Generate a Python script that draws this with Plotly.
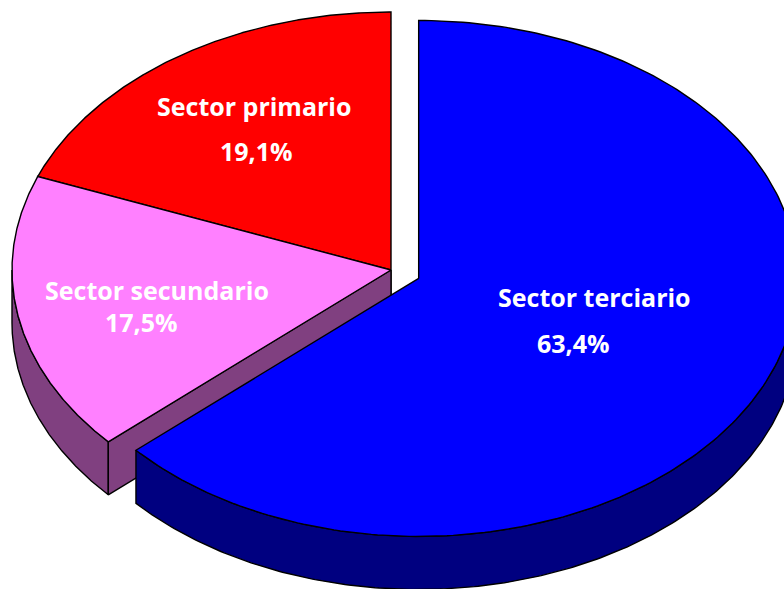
import numpy as np
import plotly.graph_objects as go

# ---- data (clockwise from 12 o'clock) ----
categories = ["Sector terciario", "Sector secundario", "Sector primario"]
values = [63.4, 17.5, 19.1]

# ---- styles / layout constants ----
top_colors = ["#0000FF", "#FF80FF", "#FF0000"]
side_colors = ["#000080", "#804080", "#800000"]
explode = [0.08, 0.0, 0.0]
label_pos = [((594, 297), (573, 343)), ((157, 290), (141, 322)), ((254, 106), (256, 151))]
CX, CY = 391.0, 270.0
RX, RY = 379.0, 258.0
DEPTH = 53.0
W, H = 784, 589


def pt(cx, cy, a):
    r = np.radians(a)
    return cx + RX * np.cos(r), cy - RY * np.sin(r)


def arc(cx, cy, a0, a1, n=240):
    a = np.linspace(a0, a1, n)
    r = np.radians(a)
    return list(cx + RX * np.cos(r)), list(cy - RY * np.sin(r))


def poly(xs, ys, fill):
    return go.Scatter(x=xs + [xs[0]], y=ys + [ys[0]], mode="lines", fill="toself",
                      fillcolor=fill, line=dict(color="black", width=1.4),
                      hoverinfo="skip", showlegend=False)


total = sum(values)
slices = []
start = 90.0
for i, v in enumerate(values):
    sweep = 360.0 * v / total
    a0, a1 = start - sweep, start
    mid = (a0 + a1) / 2
    mr = np.radians(mid)
    cx = CX + explode[i] * RX * np.cos(mr)
    cy = CY - explode[i] * RY * np.sin(mr)
    slices.append(dict(a0=a0, a1=a1, cx=cx, cy=cy, i=i))
    start = a0


def visible_side(s):
    out = []
    for k in range(-2, 2):
        lo, hi = 180 + 360 * k, 360 + 360 * k
        a = max(s["a0"], lo)
        b = min(s["a1"], hi)
        if b > a:
            out.append((a, b))
    return out


traces_by_slice = {}
for s in slices:
    i = s["i"]
    tr = []
    for a, b in visible_side(s):
        xs, ys = arc(s["cx"], s["cy"], a, b)
        xb = xs[::-1]
        yb = [y + DEPTH for y in ys[::-1]]
        tr.append(poly(xs + xb, ys + yb, side_colors[i]))
    for ang, sign in ((s["a0"], -1), (s["a1"], 1)):
        na = np.radians(ang + sign * 90)
        if np.sin(na) < -1e-6:
            px, py = pt(s["cx"], s["cy"], ang)
            xs = [s["cx"], px, px, s["cx"]]
            ys = [s["cy"], py, py + DEPTH, s["cy"] + DEPTH]
            tr.append(poly(xs, ys, side_colors[i]))
    xs, ys = arc(s["cx"], s["cy"], s["a0"], s["a1"])
    tr.append(poly([s["cx"]] + xs, [s["cy"]] + ys, top_colors[i]))
    traces_by_slice[i] = tr

fig = go.Figure()
for i in (2, 1, 0):
    for t in traces_by_slice[i]:
        fig.add_trace(t)

font = dict(family="'Open Sans', sans-serif", size=25, color="white")
for i, (name, v) in enumerate(zip(categories, values)):
    (nx, ny), (px, py) = label_pos[i]
    fig.add_annotation(x=nx, y=ny, text="<b>%s</b>" % name, showarrow=False,
                       font=font, xanchor="center", yanchor="middle")
    fig.add_annotation(x=px, y=py, text="<b>%s%%</b>" % ("%.1f" % v).replace(".", ","),
                       showarrow=False, font=font, xanchor="center", yanchor="middle")

fig.update_layout(
    width=W, height=H, margin=dict(l=0, r=0, t=0, b=0, pad=0),
    paper_bgcolor="white", plot_bgcolor="white",
    xaxis=dict(range=[0, W], visible=False, fixedrange=True),
    yaxis=dict(range=[H, 0], visible=False, fixedrange=True),
    showlegend=False,
)
fig.write_html(
    "out.html",
    config={"displayModeBar": False},
    post_script="document.body.style.margin='0';document.body.style.overflow='hidden';",
)
